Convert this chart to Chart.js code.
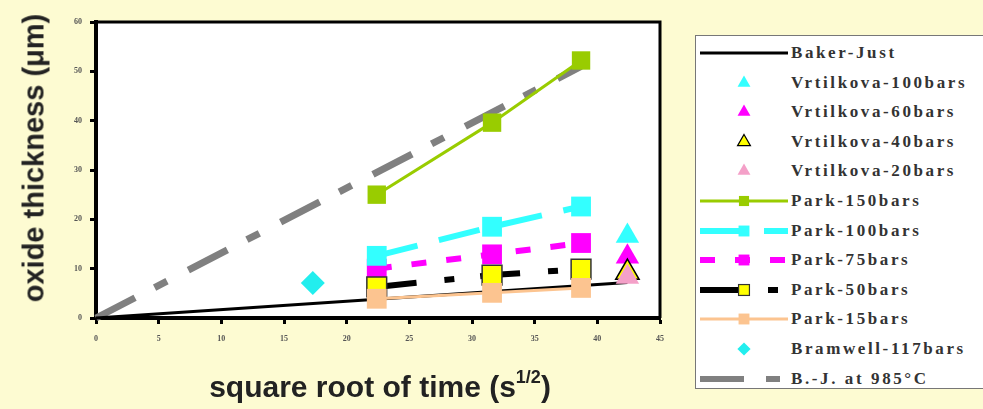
<!DOCTYPE html>
<html>
<head>
<meta charset="utf-8">
<script src="https://cdn.jsdelivr.net/npm/chart.js@4.4.1/dist/chart.umd.min.js"></script>
<style>
  html, body { margin: 0; padding: 0; background: #fdfbd2; }
  #wrap { position: relative; width: 983px; height: 409px; overflow: hidden; }
  #chart { position: absolute; left: 0; top: 0; }
  .ytitle {
    position: absolute; left: 34px; top: 158px;
    transform: translate(-50%, -50%) rotate(-90deg);
    font: bold 29px "Liberation Sans", Arial, sans-serif; color: #222; white-space: nowrap;
  }
  .xtitle {
    position: absolute; left: 380px; top: 387px;
    transform: translate(-50%, -50%);
    font: bold 30px "Liberation Sans", Arial, sans-serif; color: #222; white-space: nowrap;
  }
  .xtitle sup { font-size: 18px; position: relative; top: -3px; }
  #legend {
    position: absolute; left: 695px; top: 35px; width: 290px; height: 354px;
    background: #fff; border: 1px solid #777; box-sizing: border-box;
  }
  .row { position: absolute; left: 0; height: 30px; width: 290px; }
  .row svg { position: absolute; left: 4px; top: 0; }
  .row span {
    position: absolute; left: 95px; top: 5px;
    font: bold 17px "Liberation Serif", "Times New Roman", serif; letter-spacing: 2.6px; color: #333;
    white-space: nowrap;
  }
</style>
</head>
<body>
<div id="wrap">
  <canvas id="chart" width="983" height="409"></canvas>
  <div class="ytitle">oxide thickness (μm)</div>
  <div class="xtitle">square root of time (s<sup>1/2</sup>)</div>
  <div id="legend"></div>
</div>
<script>
// x = square root of time (s^1/2), y = oxide thickness (um)
const parkX = [22.4, 31.6, 38.7];
const bakerJustX = [0, 42.4];
const bakerJustY = [0, 7.2];
const vrtX = [42.4];
const vrt100Y = [16.6];
const vrt60Y = [12.4];
const vrt40Y = [9.2];
const vrt20Y = [8.3];
const park150Y = [25.0, 39.6, 52.2];
const park100Y = [12.6, 18.5, 22.6];
const park75Y = [10.0, 12.9, 15.2];
const park50Y = [6.3, 8.7, 9.9];
const park15Y = [3.9, 5.1, 6.1];
const bramwellX = [17.3];
const bramwellY = [7.1];
const bj985X = [0, 38.7];
const bj985Y = [0, 51.0];

const xTicks = [0, 5, 10, 15, 20, 25, 30, 35, 40, 45];
const yTicks = [0, 10, 20, 30, 40, 50, 60];

function pts(xs, ys) {
  return ys.map((y, i) => ({ x: xs[i], y: y }));
}

const series = [
  { label: "Baker-Just", data: pts(bakerJustX, bakerJustY), line: "#000", width: 3, dash: [], point: false, order: 6 },
  { label: "Vrtilkova-100bars", data: pts(vrtX, vrt100Y), fill: "#33ffff", style: "triangle", r: 13.5, order: 4 },
  { label: "Vrtilkova-60bars", data: pts(vrtX, vrt60Y), fill: "#ff00ff", style: "triangle", r: 13.5, order: 3 },
  { label: "Vrtilkova-40bars", data: pts(vrtX, vrt40Y), fill: "#ffff00", edge: "#000", style: "triangle", r: 13.5, order: 2 },
  { label: "Vrtilkova-20bars", data: pts(vrtX, vrt20Y), fill: "#f4a0c8", style: "triangle", r: 13.5, order: 1 },
  { label: "Park-150bars", data: pts(parkX, park150Y), line: "#99cc00", width: 3, dash: [], fill: "#99cc00", style: "rect", r: 13, order: 5 },
  { label: "Park-100bars", data: pts(parkX, park100Y), line: "#33ffff", width: 6, dash: [42, 22], fill: "#33ffff", style: "rect", r: 14, order: 3 },
  { label: "Park-75bars", data: pts(parkX, park75Y), line: "#ff00ff", width: 6, dash: [15, 20], fill: "#ff00ff", style: "rect", r: 14, order: 4 },
  { label: "Park-50bars", data: pts(parkX, park50Y), line: "#000", width: 6, dash: [40, 28, 10, 26], fill: "#ffff00", edge: "#333", style: "rect", r: 14, order: 2 },
  { label: "Park-15bars", data: pts(parkX, park15Y), line: "#fcc490", width: 3, dash: [], fill: "#fcc490", style: "rect", r: 14, order: 1 },
  { label: "Bramwell-117bars", data: pts(bramwellX, bramwellY), fill: "#22eeee", style: "rectRot", r: 12, order: 1 },
  { label: "B.-J. at 985\u00b0C", data: pts(bj985X, bj985Y), line: "#808080", width: 7, dash: [44, 22, 14, 24], point: false, order: 7 }
];

const datasets = series.map(s => ({
  label: s.label,
  data: s.data,
  order: s.order,
  showLine: !!s.line,
  borderColor: s.line || s.fill,
  borderWidth: s.line ? s.width : 0,
  borderDash: s.dash || [],
  borderCapStyle: "butt",
  tension: 0,
  pointStyle: s.style || "circle",
  pointRadius: s.point === false ? 0 : s.r,
  pointBackgroundColor: s.fill,
  pointBorderColor: s.edge || s.fill,
  pointBorderWidth: s.edge ? 1.5 : 0,
  clip: false
}));

const plotBox = {
  id: "plotBox",
  beforeDraw(chart) {
    const a = chart.chartArea, ctx = chart.ctx;
    ctx.save();
    ctx.fillStyle = "#fff";
    ctx.fillRect(a.left, a.top, a.right - a.left, a.bottom - a.top);
    ctx.restore();
  },
  afterDraw(chart) {
    const a = chart.chartArea, ctx = chart.ctx;
    ctx.save();
    ctx.strokeStyle = "#000";
    ctx.lineWidth = 3;
    ctx.beginPath();
    ctx.moveTo(a.left, a.top);
    ctx.lineTo(a.right, a.top);
    ctx.lineTo(a.right, a.bottom);
    ctx.stroke();
    ctx.restore();
  }
};

const tickFont = { family: "Liberation Serif", size: 8, weight: "bold" };

new Chart(document.getElementById("chart"), {
  type: "scatter",
  data: { datasets: datasets },
  options: {
    responsive: false,
    animation: false,
    layout: { padding: { top: 22, right: 323, left: 0, bottom: 0 } },
    plugins: { legend: { display: false }, tooltip: { enabled: false } },
    scales: {
      x: {
        type: "linear", min: 0, max: 45,
        afterBuildTicks(scale) { scale.ticks = xTicks.map(v => ({ value: v })); },
        afterFit(scale) { scale.height = 91; },
        ticks: { font: tickFont, color: "#555", padding: 10 },
        grid: { drawOnChartArea: false, tickLength: 6, tickWidth: 3, tickColor: "#000" },
        border: { display: true, color: "#000", width: 4 }
      },
      y: {
        type: "linear", min: 0, max: 60,
        afterBuildTicks(scale) { scale.ticks = yTicks.map(v => ({ value: v })); },
        afterFit(scale) { scale.width = 96; },
        ticks: { font: tickFont, color: "#555", padding: 8 },
        grid: { drawOnChartArea: false, tickLength: 6, tickWidth: 3, tickColor: "#000" },
        border: { display: true, color: "#000", width: 4 }
      }
    }
  },
  plugins: [plotBox]
});

// legend samples
function marker(s, cx, cy, scale) {
  const r = s.r * scale;
  const fill = s.fill, edge = s.edge ? ` stroke="${s.edge}" stroke-width="1.2"` : "";
  if (s.style === "rect") {
    const h = r * 0.707;
    return `<rect x="${cx - h}" y="${cy - h}" width="${2 * h}" height="${2 * h}" fill="${fill}"${edge}/>`;
  }
  if (s.style === "triangle") {
    return `<polygon points="${cx},${cy - r} ${cx + r * 0.866},${cy + r / 2} ${cx - r * 0.866},${cy + r / 2}" fill="${fill}"${edge}/>`;
  }
  if (s.style === "rectRot") {
    return `<polygon points="${cx},${cy - r} ${cx + r},${cy} ${cx},${cy + r} ${cx - r},${cy}" fill="${fill}"${edge}/>`;
  }
  return "";
}

const legend = document.getElementById("legend");
series.forEach((s, i) => {
  const row = document.createElement("div");
  row.className = "row";
  row.style.top = (2 + i * 29.6) + "px";
  let svg = `<svg width="90" height="30">`;
  if (s.line) {
    const w = Math.min(s.width, 6);
    svg += `<line x1="0" y1="15" x2="88" y2="15" stroke="${s.line}" stroke-width="${w}" stroke-dasharray="${(s.dash || []).join(" ")}"/>`;
  }
  if (s.point !== false) svg += marker(s, 44, 15, 0.55);
  svg += `</svg>`;
  row.innerHTML = svg + `<span>${s.label}</span>`;
  legend.appendChild(row);
});
</script>
</body>
</html>
